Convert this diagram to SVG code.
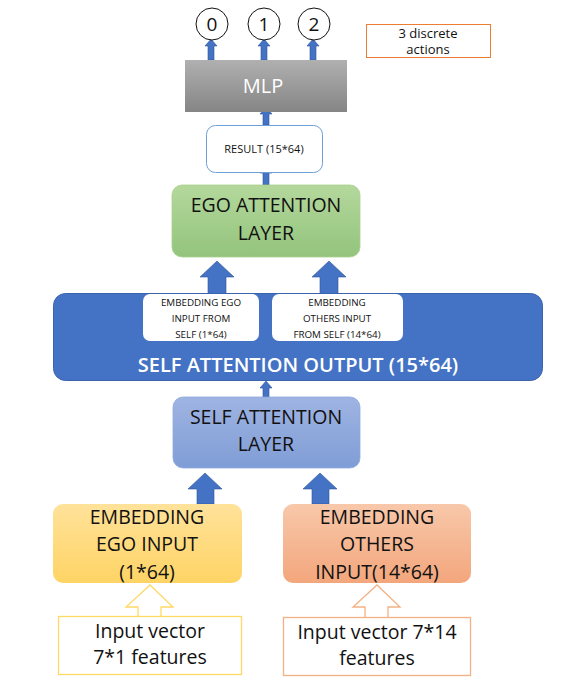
<svg xmlns="http://www.w3.org/2000/svg" width="573" height="687" viewBox="0 0 573 687">
<defs>
<style>
text{font-family:"Open Sans","Liberation Sans",sans-serif;text-anchor:middle;fill:#111}
.big{font-size:19.5px}
.sm{font-size:9.8px}
.wt{fill:#fff}
.arr{fill:#4472c4;stroke:#2f5597;stroke-width:0.6}
</style>
<linearGradient id="gMLP" x1="0" y1="0" x2="0" y2="1"><stop offset="0" stop-color="#b0b0b0"/><stop offset="1" stop-color="#858585"/></linearGradient>
<linearGradient id="gGreen" x1="0" y1="0" x2="0" y2="1"><stop offset="0" stop-color="#b4d89c"/><stop offset="1" stop-color="#93c47d"/></linearGradient>
<linearGradient id="gBlue" x1="0" y1="0" x2="0" y2="1"><stop offset="0" stop-color="#9fb4e2"/><stop offset="1" stop-color="#7f9dd6"/></linearGradient>
<linearGradient id="gYel" x1="0" y1="0" x2="0" y2="1"><stop offset="0" stop-color="#ffe29a"/><stop offset="1" stop-color="#ffd465"/></linearGradient>
<linearGradient id="gOr" x1="0" y1="0" x2="0" y2="1"><stop offset="0" stop-color="#f8c8aa"/><stop offset="1" stop-color="#f3a67c"/></linearGradient>
</defs>
<rect width="573" height="687" fill="#fff"/>

<g id="connectors">
<path class="arr" d="M208,60 V46 H205 L211,39 L217,46 H214 V60 Z"/>
<path class="arr" d="M261,60 V46 H258 L264,39 L270,46 H267 V60 Z"/>
<path class="arr" d="M310,60 V46 H307 L313,39 L319,46 H316 V60 Z"/>
<path class="arr" d="M263,125 V114 H260 L266,107 L272,114 H269 V125 Z"/>
<path class="arr" d="M263,185 V173 H260 L266,166 L272,173 H269 V185 Z"/>
<path class="arr" d="M208,294 V277 H200 L217,261 L234,277 H226 V294 Z"/>
<path class="arr" d="M320,294 V277 H312 L329,261 L346,277 H338 V294 Z"/>
<path class="arr" d="M263,397 V388 H260 L266,381 L272,388 H269 V397 Z"/>
<path class="arr" d="M197,504 V489 H188 L205,473 L222,489 H214 V504 Z"/>
<path class="arr" d="M312,504 V489 H303 L320,473 L337,489 H329 V504 Z"/>
<path d="M138,616 V607 H126 L150,585 L173,607 H161 V616" fill="#fff" stroke="#ffd966" stroke-width="1.3"/>
<path d="M365,617 V607 H353 L377,585 L400,607 H388 V617" fill="#fff" stroke="#f4b183" stroke-width="1.3"/>
</g>

<g id="out0"><circle cx="212" cy="24" r="16" fill="#fff" stroke="#111" stroke-width="1"/><text x="212" y="31" style="font-size:19px">0</text></g>
<g id="out1"><circle cx="264" cy="24" r="16" fill="#fff" stroke="#111" stroke-width="1"/><text x="264" y="31" style="font-size:19px">1</text></g>
<g id="out2"><circle cx="314" cy="24" r="16" fill="#fff" stroke="#111" stroke-width="1"/><text x="314" y="31" style="font-size:19px">2</text></g>

<g id="actions-note"><rect x="366.5" y="24.5" width="124" height="33" fill="#fff" stroke="#ed7d31" stroke-width="1"/><text x="428" y="37.5" style="font-size:13px">3 discrete</text><text x="428" y="54" style="font-size:13px">actions</text></g>

<g id="mlp"><rect x="185" y="60" width="162" height="52" fill="url(#gMLP)"/><text x="263" y="93" class="wt" style="font-size:20px">MLP</text></g>

<g id="result"><rect x="206.5" y="125.5" width="116" height="47" rx="9" fill="#fff" stroke="#6f9fd8" stroke-width="1"/><text x="264" y="152.5" style="font-size:11px">RESULT (15*64)</text></g>

<g id="ego-attention"><rect x="172" y="185" width="188" height="72" rx="10" fill="url(#gGreen)" stroke="#a9d18e" stroke-width="0.8"/><text x="266" y="212" class="big">EGO ATTENTION</text><text x="266" y="240" class="big">LAYER</text></g>

<g id="self-attention-output"><rect x="53.5" y="293.5" width="489" height="87" rx="12" fill="#4472c4" stroke="#3a63ad" stroke-width="1"/><text x="298" y="372" class="wt" style="font-size:20px;font-weight:600">SELF ATTENTION OUTPUT (15*64)</text>
<g id="emb-ego-self"><rect x="143" y="294" width="116" height="47" rx="7" fill="#fff"/><text x="201" y="306" class="sm">EMBEDDING EGO</text><text x="201" y="322" class="sm">INPUT FROM</text><text x="201" y="338" class="sm">SELF (1*64)</text></g>
<g id="emb-others-self"><rect x="272" y="294" width="131" height="47" rx="7" fill="#fff"/><text x="337" y="306" class="sm">EMBEDDING</text><text x="337" y="322" class="sm">OTHERS INPUT</text><text x="337" y="338" class="sm">FROM SELF (14*64)</text></g>
</g>

<g id="self-attention-layer"><rect x="173" y="397" width="187" height="71" rx="10" fill="url(#gBlue)" stroke="#8faadc" stroke-width="0.8"/><text x="266" y="424" class="big">SELF ATTENTION</text><text x="266" y="451" class="big">LAYER</text></g>

<g id="emb-ego"><rect x="53" y="504" width="189" height="79" rx="10" fill="url(#gYel)"/><text x="147" y="524" class="big">EMBEDDING</text><text x="147" y="551" class="big">EGO INPUT</text><text x="147" y="579" class="big">(1*64)</text></g>

<g id="emb-others"><rect x="283" y="504" width="188" height="79" rx="10" fill="url(#gOr)"/><text x="377" y="524" class="big">EMBEDDING</text><text x="377" y="551" class="big">OTHERS</text><text x="377" y="579" class="big">INPUT(14*64)</text></g>

<g id="input-ego"><rect x="58.5" y="616.5" width="183" height="58" fill="#fff" stroke="#ffd966" stroke-width="1.3"/><text x="150" y="638" class="big">Input vector</text><text x="150" y="664" class="big">7*1 features</text></g>

<g id="input-others"><rect x="283.5" y="617.5" width="187" height="58" fill="#fff" stroke="#f4b183" stroke-width="1.3"/><text x="377" y="639" class="big">Input vector 7*14</text><text x="377" y="665" class="big">features</text></g>
</svg>
